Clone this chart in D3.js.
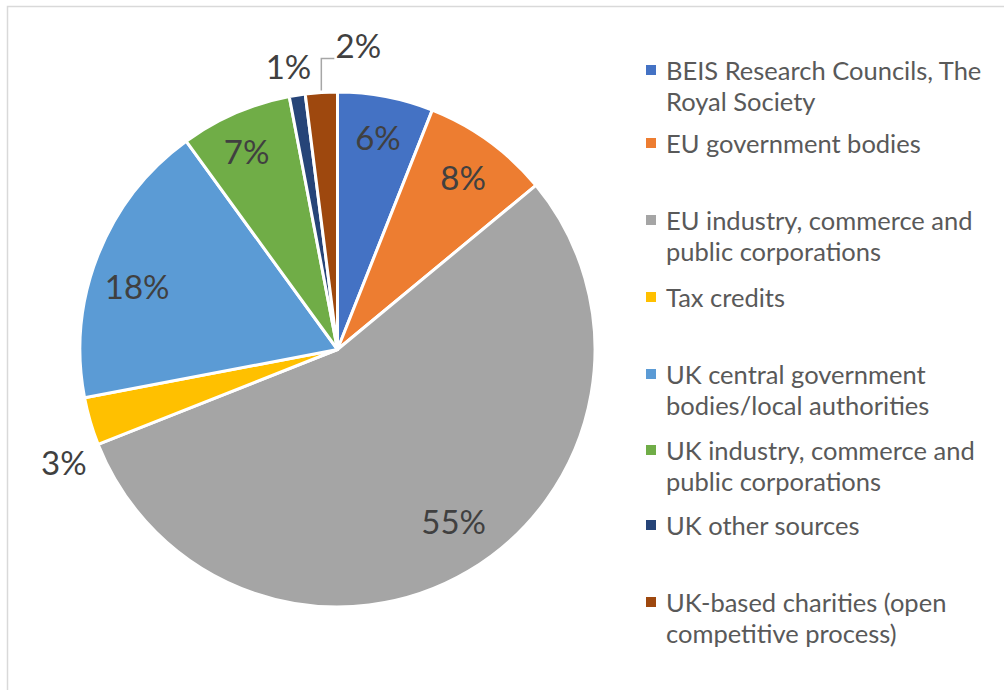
<!DOCTYPE html>
<html>
<head>
<meta charset="utf-8">
<script src="https://cdn.jsdelivr.net/npm/d3@7"></script>
<style>
  html, body { margin: 0; padding: 0; background: #fff; }
  svg { display: block; }
</style>
</head>
<body>
<svg id="chart" width="1004" height="690"></svg>
<script>
// Funding sources (share of total, %)
const categories = [
  "BEIS Research Councils, The Royal Society",
  "EU government bodies",
  "EU industry, commerce and public corporations",
  "Tax credits",
  "UK central government bodies/local authorities",
  "UK industry, commerce and public corporations",
  "UK other sources",
  "UK-based charities (open competitive process)"
];
const values = [6, 8, 55, 3, 18, 7, 1, 2];
const labels = ["6%", "8%", "55%", "3%", "18%", "7%", "1%", "2%"];
const legendLines = [
  ["BEIS Research Councils, The", "Royal Society"],
  ["EU government bodies"],
  ["EU industry, commerce and", "public corporations"],
  ["Tax credits"],
  ["UK central government", "bodies/local authorities"],
  ["UK industry, commerce and", "public corporations"],
  ["UK other sources"],
  ["UK-based charities (open", "competitive process)"]
];
const colors = ["#4472C4", "#ED7D31", "#A5A5A5", "#FFC000", "#5B9BD5", "#70AD47", "#264478", "#9E480E"];

const svg = d3.select("#chart");
const W = 1004, H = 690;

// chart area frame
svg.append("rect")
  .attr("x", 7.5).attr("y", 6.5)
  .attr("width", W + 20).attr("height", H + 20)
  .attr("fill", "#fff").attr("stroke", "#d9d9d9").attr("stroke-width", 1.5);

const cx = 337.5, cy = 349.5, R = 257.5;
const color = d3.scaleOrdinal().domain(categories).range(colors);

const pie = d3.pie().sort(null).value(d => d.value);
const data = categories.map((c, i) => ({ name: c, value: values[i], label: labels[i] }));
const arcs = pie(data);

const arc = d3.arc().innerRadius(0).outerRadius(R);
const g = svg.append("g").attr("transform", `translate(${cx},${cy})`);

g.selectAll("path.slice")
  .data(arcs)
  .enter().append("path")
  .attr("class", "slice")
  .attr("d", arc)
  .attr("fill", d => color(d.data.name))
  .attr("stroke", "#fff")
  .attr("stroke-width", 3)
  .attr("stroke-linejoin", "round");

// label placement: inside labels near 0.83R; small slices labelled outside
const labelPlace = [
  { r: 0.84 * R, dx: 0, dy: 0 },
  { r: 0.83 * R, dx: 0, dy: 0 },
  { r: 0.81 * R, dx: 10, dy: -8 },
  { r: R + 40, dx: 12, dy: 30 },
  { r: 0.82 * R, dx: -4, dy: 14 },
  { r: 0.85 * R, dx: -4, dy: 2 },
  { r: R + 30, dx: -4, dy: 0 },
  { r: R + 48, dx: 40, dy: 0 }
];

function polar(angle, r) {
  return [r * Math.sin(angle), -r * Math.cos(angle)];
}

arcs.forEach((a, i) => {
  const mid = (a.startAngle + a.endAngle) / 2;
  const p = labelPlace[i];
  const [x, y] = polar(mid, p.r);
  g.append("text")
    .attr("x", x + p.dx).attr("y", y + p.dy)
    .attr("text-anchor", "middle")
    .attr("dominant-baseline", "central")
    .attr("font-family", "Lato, 'Open Sans', sans-serif")
    .attr("font-size", 33)
    .attr("fill", "#404040")
    .text(a.data.label);
  if (i === 7) {
    // leader line from slice edge to its label
    const [ex, ey] = polar(mid, R);
    const ly = y + p.dy + 14;
    g.append("polyline")
      .attr("points", `${ex},${ey - 2} ${ex},${ly} ${x + p.dx - 24},${ly}`)
      .attr("fill", "none")
      .attr("stroke", "#a6a6a6")
      .attr("stroke-width", 1.5);
  }
});

// legend
const legendX = 646, textX = 666;
const legendTop = [70, 143, 220, 297, 374, 450, 525, 602];
const lineH = 31;
const leg = svg.append("g");
categories.forEach((c, i) => {
  const y0 = legendTop[i];
  leg.append("rect")
    .attr("x", legendX).attr("y", y0 - 5)
    .attr("width", 10).attr("height", 10)
    .attr("fill", color(c));
  const t = leg.append("text")
    .attr("font-family", "Lato, 'Open Sans', sans-serif")
    .attr("font-size", 25.5)
    .attr("fill", "#595959");
  legendLines[i].forEach((line, j) => {
    t.append("tspan")
      .attr("x", textX)
      .attr("y", y0 + j * lineH)
      .attr("dominant-baseline", "central")
      .text(line);
  });
});
</script>
</body>
</html>
